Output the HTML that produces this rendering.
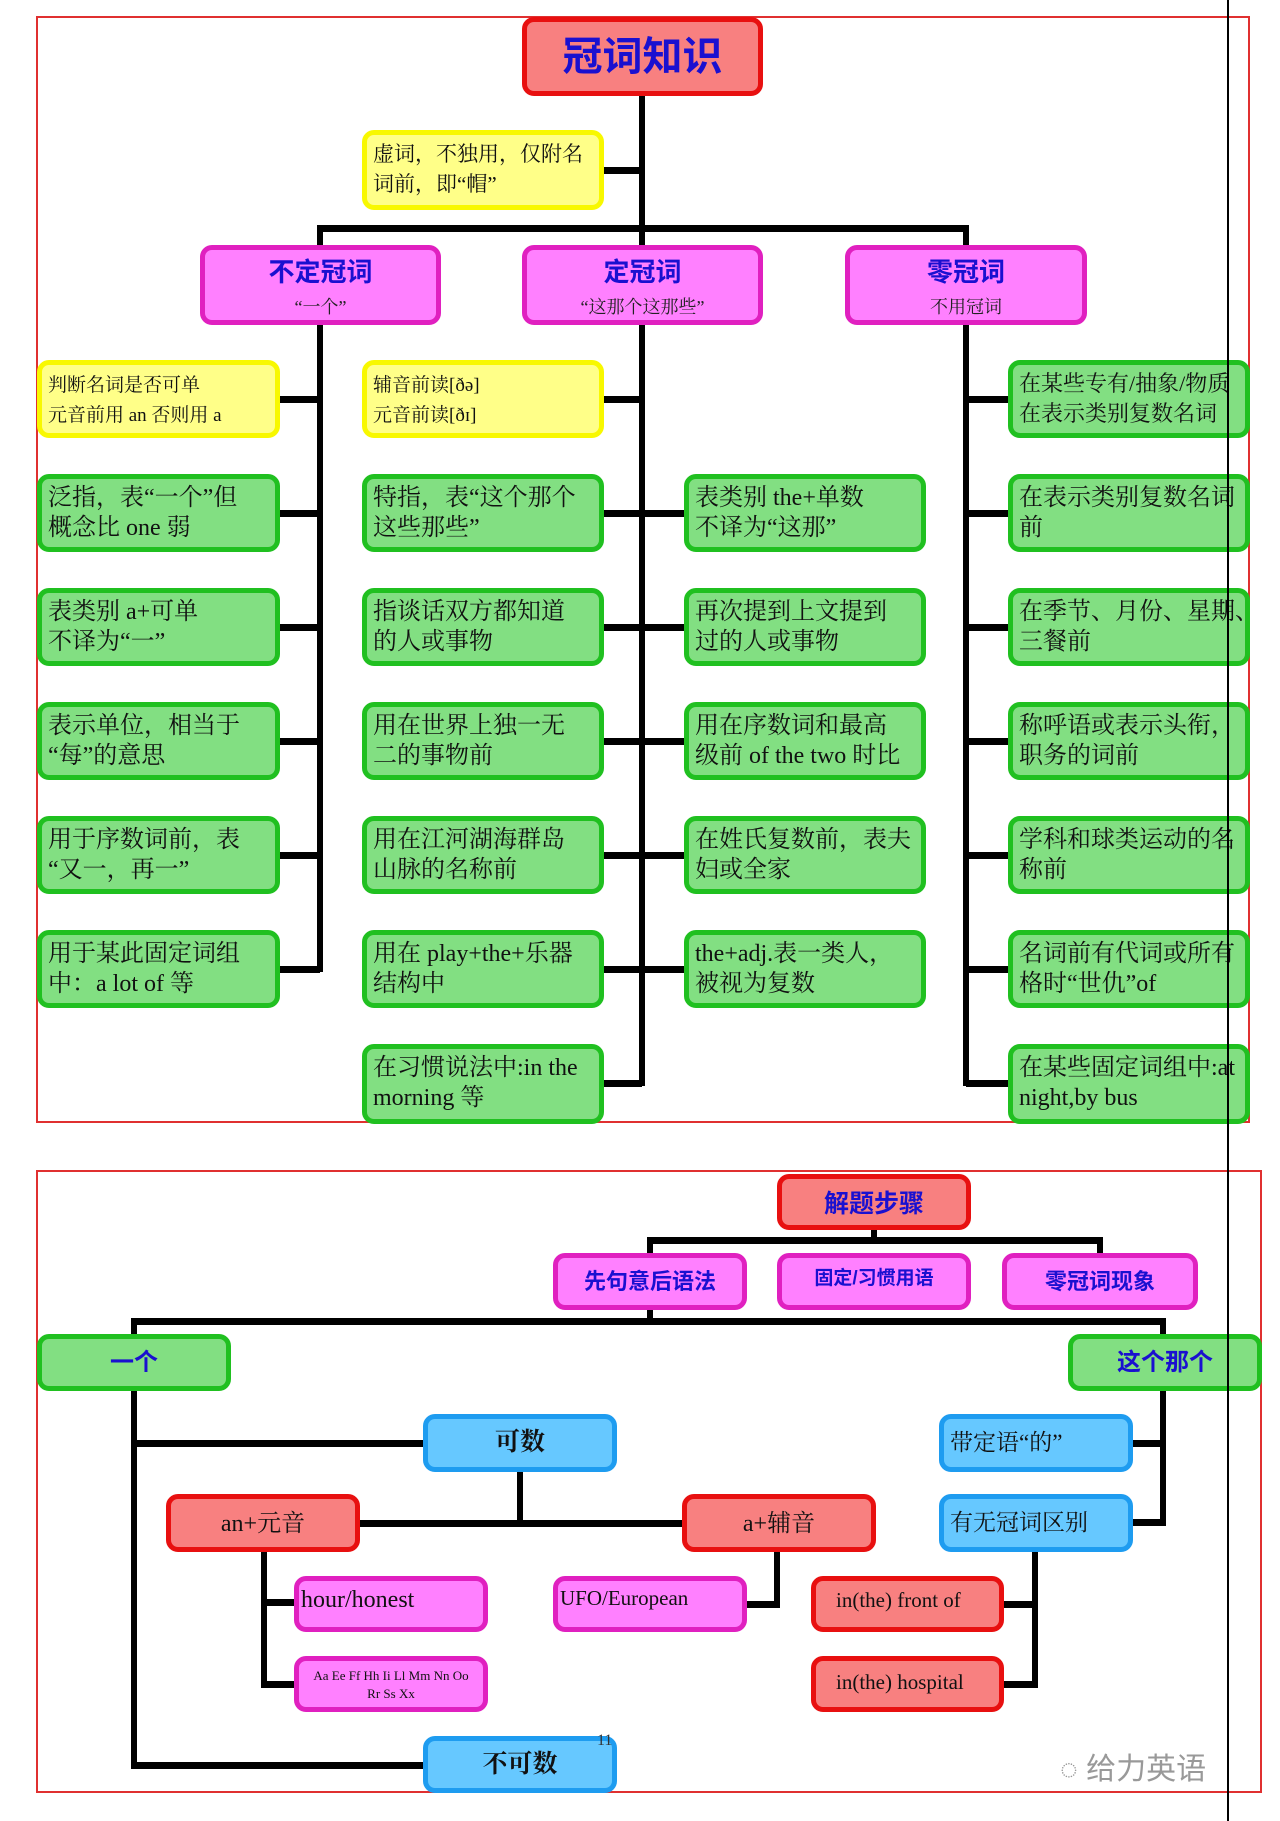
<!DOCTYPE html>
<html><head><meta charset="utf-8"><style>
body{margin:0;width:1280px;height:1821px;background:#fff;position:relative;overflow:hidden;font-family:"Liberation Serif","Noto Serif CJK SC",serif;}
div{position:absolute;box-sizing:border-box;}
.f{border:2px solid #e03030;}
.b{border-radius:12px;border:5px solid;overflow:hidden;color:#111;font-size:24px;line-height:30px;padding:4px 6px;white-space:nowrap;}
.g{background:#82df82;border-color:#20c020;}
.y{background:#ffff88;border-color:#f8f800;}
.m{background:#ff80ff;border-color:#e020c0;}
.r{background:#f88080;border-color:#e81010;}
.u{background:#66c8ff;border-color:#1e9cf0;}
.c{text-align:center;color:#1a10d0;font-weight:bold;font-family:"Liberation Sans","Noto Sans CJK SC",sans-serif;}
.l{background:#000;}
.s{font-size:19px;line-height:30px;}
</style></head><body>
<div class="f" style="left:36px;top:16px;width:1214px;height:1107px"></div>
<div class="f" style="left:36px;top:1170px;width:1226px;height:1623px;height:623px"></div>

<!-- top lines -->
<div class="l" style="left:639px;top:96px;width:6px;height:150px"></div>
<div class="l" style="left:604px;top:167px;width:38px;height:7px"></div>
<div class="l" style="left:317px;top:225px;width:652px;height:7px"></div>
<div class="l" style="left:317px;top:225px;width:6px;height:22px"></div>
<div class="l" style="left:963px;top:225px;width:6px;height:22px"></div>
<div class="l" style="left:317px;top:325px;width:6px;height:647px"></div>
<div class="l" style="left:639px;top:325px;width:6px;height:761px"></div>
<div class="l" style="left:963px;top:325px;width:6px;height:761px"></div>

<div class="l" style="left:280px;top:396px;width:40px;height:7px"></div>
<div class="l" style="left:280px;top:510px;width:40px;height:7px"></div>
<div class="l" style="left:280px;top:624px;width:40px;height:7px"></div>
<div class="l" style="left:280px;top:738px;width:40px;height:7px"></div>
<div class="l" style="left:280px;top:852px;width:40px;height:7px"></div>
<div class="l" style="left:280px;top:966px;width:40px;height:7px"></div>

<div class="l" style="left:604px;top:396px;width:38px;height:7px"></div>
<div class="l" style="left:604px;top:510px;width:80px;height:7px"></div>
<div class="l" style="left:604px;top:624px;width:80px;height:7px"></div>
<div class="l" style="left:604px;top:738px;width:80px;height:7px"></div>
<div class="l" style="left:604px;top:852px;width:80px;height:7px"></div>
<div class="l" style="left:604px;top:966px;width:80px;height:7px"></div>
<div class="l" style="left:604px;top:1080px;width:38px;height:7px"></div>

<div class="l" style="left:966px;top:396px;width:44px;height:7px"></div>
<div class="l" style="left:966px;top:510px;width:44px;height:7px"></div>
<div class="l" style="left:966px;top:624px;width:44px;height:7px"></div>
<div class="l" style="left:966px;top:738px;width:44px;height:7px"></div>
<div class="l" style="left:966px;top:852px;width:44px;height:7px"></div>
<div class="l" style="left:966px;top:966px;width:44px;height:7px"></div>
<div class="l" style="left:966px;top:1080px;width:44px;height:7px"></div>

<!-- top boxes -->
<div class="b r c" style="left:522px;top:17px;width:241px;height:79px;font-size:40px;line-height:62px">冠词知识</div>
<div class="b y s" style="left:362px;top:130px;width:242px;height:80px;font-size:21px;line-height:30px">虚词，不独用，仅附名<br>词前，即“帽”</div>
<div class="b m c" style="left:200px;top:245px;width:241px;height:80px;font-size:26px;line-height:32px;padding-top:6px">不定冠词<br><span style="font-size:18px;font-weight:normal;color:#222;font-family:'Liberation Serif','Noto Serif CJK SC',serif">“一个”</span></div>
<div class="b m c" style="left:522px;top:245px;width:241px;height:80px;font-size:26px;line-height:32px;padding-top:6px">定冠词<br><span style="font-size:18px;font-weight:normal;color:#222;font-family:'Liberation Serif','Noto Serif CJK SC',serif">“这那个这那些”</span></div>
<div class="b m c" style="left:845px;top:245px;width:242px;height:80px;font-size:26px;line-height:32px;padding-top:6px">零冠词<br><span style="font-size:18px;font-weight:normal;color:#222;font-family:'Liberation Serif','Noto Serif CJK SC',serif">不用冠词</span></div>

<!-- left column -->
<div class="b y s" style="left:37px;top:360px;width:243px;height:78px;padding-top:6px">判断名词是否可单<br>元音前用 an 否则用 a</div>
<div class="b g" style="left:37px;top:474px;width:243px;height:78px">泛指，表“一个”但<br>概念比 one 弱</div>
<div class="b g" style="left:37px;top:588px;width:243px;height:78px">表类别 a+可单<br>不译为“一”</div>
<div class="b g" style="left:37px;top:702px;width:243px;height:78px">表示单位，相当于<br>“每”的意思</div>
<div class="b g" style="left:37px;top:816px;width:243px;height:78px">用于序数词前，表<br>“又一，再一”</div>
<div class="b g" style="left:37px;top:930px;width:243px;height:78px">用于某此固定词组<br>中：a lot of 等</div>

<!-- mid-left -->
<div class="b y s" style="left:362px;top:360px;width:242px;height:78px;padding-top:6px">辅音前读[ðə]<br>元音前读[ðɪ]</div>
<div class="b g" style="left:362px;top:474px;width:242px;height:78px">特指，表“这个那个<br>这些那些”</div>
<div class="b g" style="left:362px;top:588px;width:242px;height:78px">指谈话双方都知道<br>的人或事物</div>
<div class="b g" style="left:362px;top:702px;width:242px;height:78px">用在世界上独一无<br>二的事物前</div>
<div class="b g" style="left:362px;top:816px;width:242px;height:78px">用在江河湖海群岛<br>山脉的名称前</div>
<div class="b g" style="left:362px;top:930px;width:242px;height:78px">用在 play+the+乐器<br>结构中</div>
<div class="b g" style="left:362px;top:1044px;width:242px;height:80px">在习惯说法中:in the<br>morning 等</div>

<!-- mid-right -->
<div class="b g" style="left:684px;top:474px;width:242px;height:78px">表类别 the+单数<br>不译为“这那”</div>
<div class="b g" style="left:684px;top:588px;width:242px;height:78px">再次提到上文提到<br>过的人或事物</div>
<div class="b g" style="left:684px;top:702px;width:242px;height:78px">用在序数词和最高<br>级前 of the two 时比</div>
<div class="b g" style="left:684px;top:816px;width:242px;height:78px">在姓氏复数前，表夫<br>妇或全家</div>
<div class="b g" style="left:684px;top:930px;width:242px;height:78px">the+adj.表一类人，<br>被视为复数</div>

<!-- right -->
<div class="b g" style="left:1008px;top:360px;width:242px;height:78px;font-size:22px">在某些专有/抽象/物质<br>在表示类别复数名词</div>
<div class="b g" style="left:1008px;top:474px;width:242px;height:78px">在表示类别复数名词<br>前</div>
<div class="b g" style="left:1008px;top:588px;width:242px;height:78px">在季节、月份、星期、<br>三餐前</div>
<div class="b g" style="left:1008px;top:702px;width:242px;height:78px">称呼语或表示头衔，<br>职务的词前</div>
<div class="b g" style="left:1008px;top:816px;width:242px;height:78px">学科和球类运动的名<br>称前</div>
<div class="b g" style="left:1008px;top:930px;width:242px;height:78px">名词前有代词或所有<br>格时“世仇”of</div>
<div class="b g" style="left:1008px;top:1044px;width:242px;height:80px">在某些固定词组中:at<br>night,by bus</div>

<!-- bottom lines -->
<div class="l" style="left:871px;top:1229px;width:6px;height:14px"></div>
<div class="l" style="left:647px;top:1237px;width:456px;height:7px"></div>
<div class="l" style="left:647px;top:1237px;width:6px;height:18px"></div>
<div class="l" style="left:1097px;top:1237px;width:6px;height:18px"></div>
<div class="l" style="left:647px;top:1308px;width:6px;height:14px"></div>
<div class="l" style="left:131px;top:1318px;width:1035px;height:7px"></div>
<div class="l" style="left:131px;top:1318px;width:6px;height:18px"></div>
<div class="l" style="left:1160px;top:1318px;width:6px;height:18px"></div>
<div class="l" style="left:131px;top:1390px;width:6px;height:378px"></div>
<div class="l" style="left:131px;top:1762px;width:294px;height:7px"></div>
<div class="l" style="left:131px;top:1440px;width:294px;height:7px"></div>
<div class="l" style="left:517px;top:1471px;width:6px;height:54px"></div>
<div class="l" style="left:359px;top:1520px;width:325px;height:7px"></div>
<div class="l" style="left:261px;top:1551px;width:6px;height:137px"></div>
<div class="l" style="left:261px;top:1599px;width:35px;height:7px"></div>
<div class="l" style="left:261px;top:1681px;width:35px;height:7px"></div>
<div class="l" style="left:774px;top:1551px;width:6px;height:56px"></div>
<div class="l" style="left:747px;top:1601px;width:33px;height:7px"></div>
<div class="l" style="left:1160px;top:1390px;width:6px;height:136px"></div>
<div class="l" style="left:1133px;top:1440px;width:33px;height:7px"></div>
<div class="l" style="left:1133px;top:1519px;width:33px;height:7px"></div>
<div class="l" style="left:1032px;top:1551px;width:6px;height:137px"></div>
<div class="l" style="left:1004px;top:1601px;width:34px;height:7px"></div>
<div class="l" style="left:1004px;top:1681px;width:34px;height:7px"></div>

<!-- bottom boxes -->
<div class="b r c" style="left:777px;top:1174px;width:194px;height:56px;font-size:25px;line-height:42px">解题步骤</div>
<div class="b m c" style="left:553px;top:1253px;width:194px;height:57px;font-size:22px;line-height:40px">先句意后语法</div>
<div class="b m c" style="left:777px;top:1253px;width:194px;height:57px;font-size:19px;line-height:34px">固定/习惯用语</div>
<div class="b m c" style="left:1002px;top:1253px;width:196px;height:57px;font-size:22px;line-height:40px">零冠词现象</div>
<div class="b g c" style="left:37px;top:1334px;width:194px;height:57px;font-size:24px;line-height:40px">一个</div>
<div class="b g c" style="left:1068px;top:1334px;width:194px;height:57px;font-size:24px;line-height:40px">这个那个</div>
<div class="b u" style="left:423px;top:1414px;width:194px;height:58px;text-align:center;font-weight:bold;font-size:25px;line-height:40px">可数</div>
<div class="b u" style="left:939px;top:1414px;width:194px;height:58px;font-size:23px;line-height:40px">带定语“的”</div>
<div class="b r" style="left:166px;top:1494px;width:194px;height:58px;text-align:center;font-size:24px;line-height:42px">an+元音</div>
<div class="b r" style="left:682px;top:1494px;width:194px;height:58px;text-align:center;font-size:24px;line-height:42px">a+辅音</div>
<div class="b u" style="left:939px;top:1494px;width:194px;height:58px;font-size:23px;line-height:40px">有无冠词区别</div>
<div class="b m" style="left:294px;top:1576px;width:194px;height:56px;font-size:24px;line-height:34px;padding:2px 2px">hour/honest</div>
<div class="b m" style="left:553px;top:1576px;width:194px;height:56px;font-size:21px;line-height:30px;padding:2px 2px">UFO/European</div>
<div class="b r" style="left:811px;top:1576px;width:193px;height:56px;font-size:21px;line-height:34px;padding:2px 20px">in(the) front of</div>
<div class="b m" style="left:294px;top:1656px;width:194px;height:56px;font-size:13px;line-height:18px;text-align:center;padding:6px 0">Aa Ee Ff Hh Ii Ll Mm Nn Oo<br>Rr Ss Xx</div>
<div class="b r" style="left:811px;top:1656px;width:193px;height:56px;font-size:21px;line-height:38px;padding:2px 20px">in(the) hospital</div>
<div class="b u" style="left:423px;top:1736px;width:194px;height:57px;text-align:center;font-weight:bold;font-size:25px;line-height:40px">不可数</div>
<div style="left:597px;top:1732px;font-size:16px;color:#333">11</div>
<div style="left:1060px;top:1744px;font-size:30px;color:#999;font-family:'Liberation Sans','Noto Sans CJK SC',sans-serif">◌ 给力英语</div>

<div class="l" style="left:1227px;top:0;width:2px;height:1821px"></div>
</body></html>
